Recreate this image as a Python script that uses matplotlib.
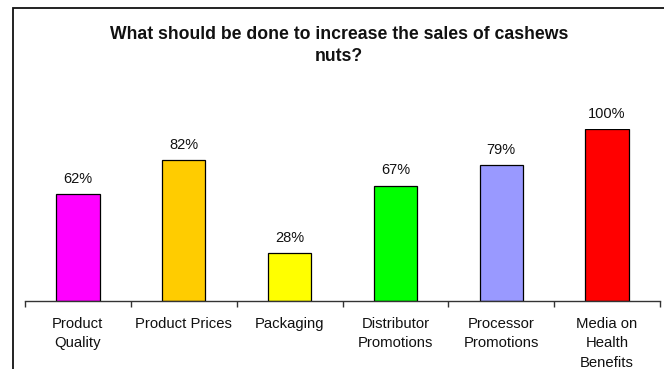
import matplotlib
matplotlib.use("Agg")
import matplotlib.pyplot as plt
from matplotlib.patches import Rectangle
import numpy as np

categories = ["Product\nQuality", "Product Prices", "Packaging",
              "Distributor\nPromotions", "Processor\nPromotions",
              "Media on\nHealth\nBenefits"]
values = [62, 82, 28, 67, 79, 100]
colors = ["#FF00FF", "#FFCC00", "#FFFF00", "#00FF00", "#9999FF", "#FF0000"]
title = "What should be done to increase the sales of cashews\nnuts?"

plt.rcParams['font.family'] = ['Liberation Sans', 'DejaVu Sans']

W, H = 664, 369
fig = plt.figure(figsize=(W / 100, H / 100), dpi=100)

# outer chart frame (cropped on right/bottom)
fig.patches.append(Rectangle((12.5 / W, -0.1), 1.2, 1 - 8.5 / H + 0.1,
                             transform=fig.transFigure, fill=False,
                             edgecolor="#111111", lw=1.3))

x0, x1 = 25, 660
yb, yt = 301, 129
ax = fig.add_axes([x0 / W, (H - yb) / H, (x1 - x0) / W, (yb - yt) / H])
ax.set_xlim(-0.5, len(categories) - 0.5)
ax.set_ylim(0, 100)

x = np.arange(len(categories))
ax.bar(x, values, width=0.41, color=colors, edgecolor="black", linewidth=0.9)
for xi, v in zip(x, values):
    ax.annotate(f"{v}%", (xi, v), xytext=(0, 6), textcoords="offset points",
                ha="center", va="bottom", fontsize=10.5, color="#111111",
                annotation_clip=False)

for s in ["top", "right", "left"]:
    ax.spines[s].set_visible(False)
ax.spines["bottom"].set_color("#333333")
ax.spines["bottom"].set_linewidth(1.0)
ax.set_yticks([])
ax.set_xticks(x)
ax.set_xticklabels(categories, fontsize=10.7, linespacing=1.5, color="#111111")
ax.tick_params(axis="x", which="major", length=0, pad=11.3)
ax.set_xticks(np.arange(-0.5, len(categories)), minor=True)
ax.tick_params(axis="x", which="minor", length=4, width=1.0, color="#333333",
               direction="out")

fig.text(339 / W, 1 - 45.5 / H, title, ha="center", va="center",
         fontsize=12.7, fontweight="bold", linespacing=1.45, color="#111111")

fig.savefig("out.png", dpi=100)
